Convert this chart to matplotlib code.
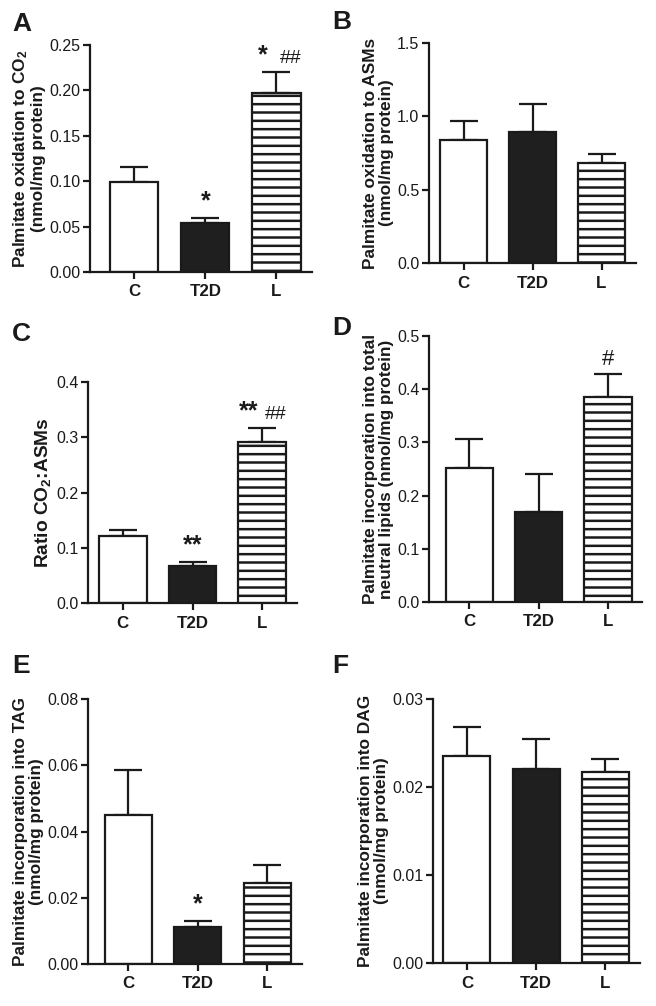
import numpy as np
import matplotlib
matplotlib.use("Agg")
import matplotlib.pyplot as plt

plt.rcParams['font.family'] = ['Liberation Sans', 'DejaVu Sans']
plt.rcParams['mathtext.default'] = 'regular'
plt.rcParams['hatch.linewidth'] = 1.8
plt.rcParams['hatch.color'] = 'black'

groups = ['C', 'T2D', 'L']

# A - palmitate oxidation to CO2
co2_mean = [0.099, 0.054, 0.197]
co2_sem = [0.017, 0.005, 0.023]
# B - palmitate oxidation to ASMs
asm_mean = [0.84, 0.89, 0.685]
asm_sem = [0.13, 0.195, 0.055]
# C - ratio CO2:ASMs
ratio_mean = [0.122, 0.067, 0.292]
ratio_sem = [0.011, 0.007, 0.024]
# D - incorporation into total neutral lipids
ntl_mean = [0.252, 0.170, 0.385]
ntl_sem = [0.055, 0.070, 0.043]
# E - incorporation into TAG
tag_mean = [0.045, 0.0113, 0.0245]
tag_sem = [0.0135, 0.0018, 0.0055]
# F - incorporation into DAG
dag_mean = [0.0235, 0.0220, 0.0217]
dag_sem = [0.0033, 0.0035, 0.0015]

# significance marks: (bar index, text)
co2_marks = [(1, '*'), (2, '*'), (2, '##')]
ratio_marks = [(1, '**'), (2, '**'), (2, '##')]
ntl_marks = [(2, '#')]
tag_marks = [(1, '*')]

W, H = 656, 1006
fig = plt.figure(figsize=(W / 100, H / 100), dpi=100)
ink = '#1a1a1a'


def panel(box, xlim, ymax, step, fmt, mean, sem, ylabel, letter, letter_xy, marks=(), lsize=12.4):
    left, right, top, bottom = box
    ax = fig.add_axes([left / W, 1 - bottom / H, (right - left) / W, (bottom - top) / H])
    x = np.arange(len(groups))
    ax.errorbar(x, mean, yerr=[np.zeros(len(mean)), sem], fmt='none', ecolor=ink,
                elinewidth=1.6, capsize=10, capthick=1.6, zorder=1)
    ax.bar(x[0], mean[0], width=0.68, color='white', edgecolor=ink, linewidth=1.6, zorder=2)
    ax.bar(x[1], mean[1], width=0.68, color='#1f1f1f', edgecolor=ink, linewidth=1.6, zorder=2)
    ax.bar(x[2], mean[2], width=0.68, color='white', edgecolor=ink, linewidth=1.6,
           hatch='--', zorder=2)
    ax.set_xlim(*xlim)
    ax.set_ylim(0, ymax)
    ticks = np.arange(0, ymax + step / 2, step)
    ax.set_yticks(ticks)
    ax.set_yticklabels([fmt % t for t in ticks], fontsize=11.5, color=ink)
    ax.set_xticks(x)
    ax.set_xticklabels(groups, fontsize=12.2, fontweight='bold', color=ink)
    for s in ['top', 'right']:
        ax.spines[s].set_visible(False)
    for s in ['left', 'bottom']:
        ax.spines[s].set_linewidth(1.6)
        ax.spines[s].set_color(ink)
    ax.tick_params(width=1.6, length=5, color=ink)
    ax.tick_params(axis='x', pad=4)
    ax.tick_params(axis='y', pad=2)
    ax.set_ylabel(ylabel, fontsize=lsize, fontweight='bold', labelpad=2, linespacing=1.1,
                  color=ink)
    fig.text(letter_xy[0] / W, 1 - letter_xy[1] / H, letter, fontsize=19, fontweight='bold',
             ha='left', va='top', color=ink)
    starred = [m[0] for m in marks if '*' in m[1]]
    for i, txt in marks:
        top_val = mean[i] + sem[i]
        if '#' in txt:
            dx = 10 if i in starred else 0
            ax.annotate(txt, (x[i], top_val), xytext=(dx, 7), textcoords='offset points',
                        ha='center', va='baseline', fontsize=14 if len(txt) > 1 else 16,
                        color=ink)
        else:
            dx = -10 if i == 2 and len(marks) > 2 else 0
            ax.annotate(txt, (x[i], top_val), xytext=(dx, 7), textcoords='offset points',
                        ha='center', va='baseline', fontsize=18, fontweight='bold', color=ink)
    return ax


panel((90, 312, 45, 272), (-0.62, 2.5), 0.25, 0.05, '%.2f', co2_mean, co2_sem,
      'Palmitate oxidation to CO$_2$\n(nmol/mg protein)', 'A', (12, 12), co2_marks)
panel((429, 636, 43, 263), (-0.5, 2.5), 1.5, 0.5, '%.1f', asm_mean, asm_sem,
      'Palmitate oxidation to ASMs\n(nmol/mg protein)', 'B', (332, 10))
panel((88, 297, 382, 603), (-0.5, 2.5), 0.4, 0.1, '%.1f', ratio_mean, ratio_sem,
      'Ratio CO$_2$:ASMs', 'C', (12, 322), ratio_marks, lsize=13.8)
panel((429, 642, 336, 602), (-0.58, 2.49), 0.5, 0.1, '%.1f', ntl_mean, ntl_sem,
      'Palmitate incorporation into total\nneutral lipids (nmol/mg protein)', 'D', (332, 316),
      ntl_marks)
panel((88, 302, 699, 964), (-0.58, 2.5), 0.08, 0.02, '%.2f', tag_mean, tag_sem,
      'Palmitate incorporation into TAG\n(nmol/mg protein)', 'E', (12, 654), tag_marks)
panel((433, 640, 699, 963), (-0.49, 2.5), 0.03, 0.01, '%.2f', dag_mean, dag_sem,
      'Palmitate incorporation into DAG\n(nmol/mg protein)', 'F', (332, 654))

fig.savefig('out.png', dpi=100)
